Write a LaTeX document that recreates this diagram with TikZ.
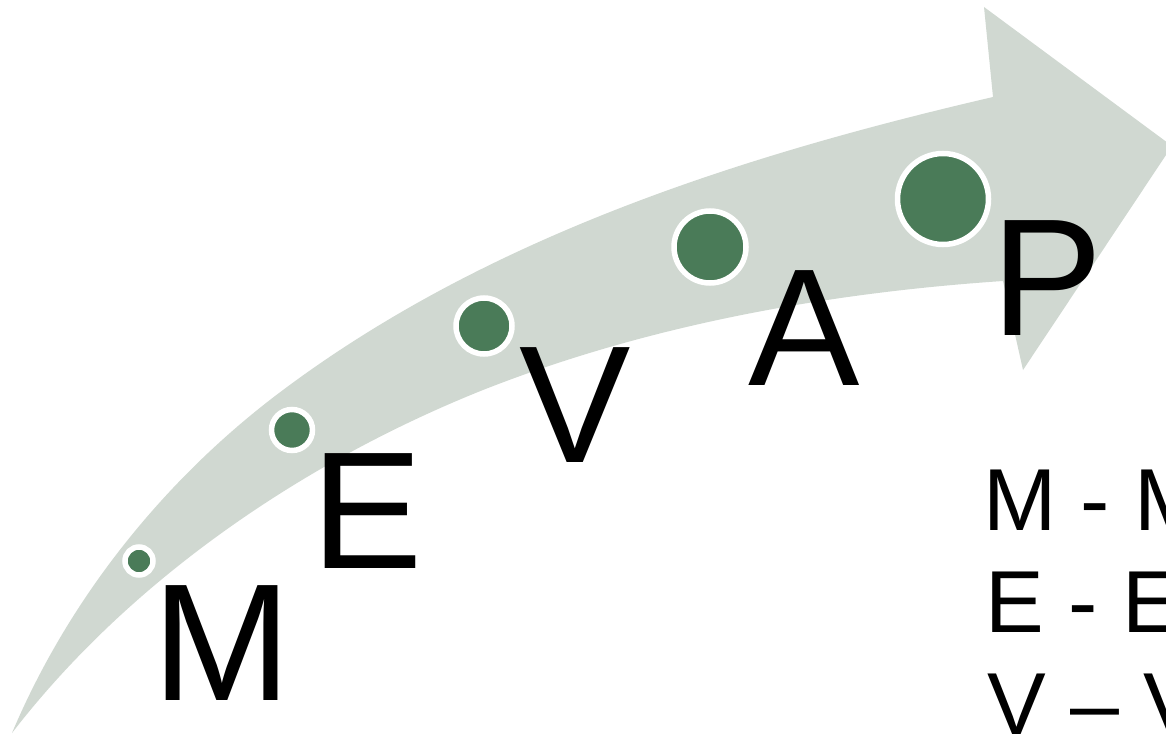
\documentclass[tikz,border=0pt]{standalone}
\usepackage{fontspec}
\setmainfont{Liberation Sans}
\definecolor{bandgray}{HTML}{D0D8D1}
\definecolor{dotgreen}{HTML}{4A7B58}

\begin{document}
\begin{tikzpicture}[x=1pt,y=-1pt,
  dot/.style={circle,fill=dotgreen,draw=white,line width=5.5pt,inner sep=0pt},
  bigletter/.style={anchor=base west,inner sep=0pt,font=\fontsize{167}{167}\selectfont},
  keyline/.style={anchor=base west,inner sep=0pt,font=\fontsize{88}{88}\selectfont}]
\useasboundingbox (0,0) rectangle (1166,733);
\clip (0,0) rectangle (1166,733);
% curved band with its head
\fill[bandgray] (12,733) .. controls (69,598) and (165,478) .. (283,390)
  .. controls (489,236) and (743,155) .. (993,97)
  -- (984,7) -- (1172,146) -- (1023,370) -- (1003,281)
  .. controls (826,293) and (648,325) .. (483,390)
  .. controls (303,462) and (130,580) .. (12,733) -- cycle;
% growing dots
\foreach \n/\x/\y/\d in {m/139/561/28, e/292/430/41, v/484/326/56, a/710/247/72, p/943/199/91}
  \node[dot,minimum size=\d] (dot\n) at (\x,\y) {};
% letters
\node[bigletter] (letM) at (152,700) {M};
\node[bigletter] (letE) at (311,568) {E};
\node[bigletter] (letV) at (519,462) {V};
\node[bigletter] (letA) at (748,385) {A};
\node[bigletter] (letP) at (991,335) {P};
% key
\node[keyline] (keyM) at (983,530) {M - M};
\node[keyline] (keyE) at (985,632) {E - E};
\node[keyline] (keyV) at (987,734) {V – V};
\end{tikzpicture}
\end{document}
